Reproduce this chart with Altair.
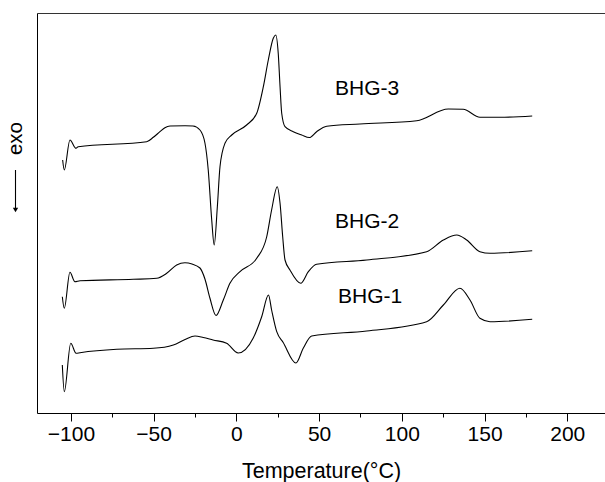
import altair as alt
import pandas as pd

# BHG-3 (top curve)
t3 = [-105.0, -104.0, -100.6, -96.9, -95.6, -54.2, -50.2, -46.2, -43.2, -40.1, -31.0, -26.2, -22.0, -19.0, -17.0, -14.9,
      -13.4, -11.5, -9.9, -6.9, -2.8, 6.2, 12.3, 16.3, 19.3, 22.3, 23.8, 25.3, 26.4, 27.4, 29.4, 34.4,
      39.5, 44.1, 48.5, 54.6, 74.7, 109.0, 128.1, 137.1, 147.2, 159.3, 178.8]
v3 = [253, 243, 273, 264.7, 266.3, 271.3, 275.7, 281.3, 285.3, 287, 287.3, 287, 283, 270, 243, 193,
      168, 206.3, 246.3, 269.7, 278, 288, 299.7, 326.3, 353, 374.7, 378, 359.7, 326.3, 299.7, 286.3, 281.3,
      278, 275.5, 281.3, 286.7, 289, 292.3, 304, 303.7, 295.7, 295.7, 297]

# BHG-2 (middle curve)
t2 = [-105.2, -104.0, -100.6, -97.6, -94.5, -62.3, -48.2, -42.1, -36.1, -31.1, -26.8, -22.0, -19.0, -16.0,
      -12.3, -7.9, -3.9, 2.2, 12.3, 18.3, 21.3, 24.7, 26.4, 28.0, 29.4, 32.4, 38.9, 43.5, 48.5,
      78.8, 115.0, 125.1, 133.2, 139.2, 147.2, 153.3, 178.8]
v2 = [116.3, 104.7, 140.7, 131.3, 132.3, 133.7, 134.7, 139.7, 148, 150.3, 149, 145, 134, 115,
      97.5, 113, 129.7, 141.3, 154.7, 176, 203, 226.3, 209.7, 176.3, 153, 143, 129.7, 141.3, 148.7,
      153, 161.3, 173, 178, 173, 161.3, 159.7, 162.3]

# BHG-1 (bottom curve)
t1 = [-105.2, -104.0, -100.1, -96.9, -94.5, -72.3, -50.2, -38.1, -31.0, -25.0, -20.0, -14.1, -5.9, 1.1, 10.2,
      15.3, 19.4, 21.3, 24.4, 28.3, 36.0, 40.4, 45.5, 78.8, 115.0, 125.1, 135.1, 141.2, 147.2, 153.3, 178.8]
v1 = [48, 21.3, 69.7, 59.7, 60.3, 63.7, 64.7, 68, 73.5, 77, 75.5, 73, 69.7, 60, 75,
      96.3, 118, 103, 81.3, 70.5, 50, 64.7, 77, 82, 91.3, 108, 124.7, 113, 94.7, 91.3, 93.7]

labels = ["BHG-3", "BHG-2", "BHG-1"]
label_t = [59.6, 59.6, 61.4]
label_v = [324, 191, 116]

tick_values = [-100, -75, -50, -25, 0, 25, 50, 75, 100, 125, 150, 175, 200]

rows = []
for name, ts, vs in [("BHG-3", t3, v3), ("BHG-2", t2, v2), ("BHG-1", t1, v1)]:
    for i, (t, v) in enumerate(zip(ts, vs)):
        rows.append({"series": name, "T": t, "v": v, "order": i})
df = pd.DataFrame(rows)
lab_df = pd.DataFrame({"label": labels, "T": label_t, "v": label_v})
deco = pd.DataFrame({"k": [0]})

FONT = "Liberation Sans"
xscale = alt.Scale(domain=[-120.5, 222.8], nice=False, zero=False)
yscale = alt.Scale(domain=[0, 400], nice=False, zero=False)

lines = alt.Chart(df).mark_line(color="black", strokeWidth=1.1, interpolate="monotone").encode(
    x=alt.X("T:Q", scale=xscale,
            axis=alt.Axis(values=tick_values, grid=False, domainColor="black", tickColor="black",
                          tickSize={"condition": {"test": "datum.value % 50 === 0", "value": 8}, "value": 4},
                          labelExpr="datum.value % 50 === 0 ? datum.label : ''",
                          labelFont=FONT, labelFontSize=21, labelColor="black", labelPadding=2,
                          title="Temperature(°C)", titleFont=FONT, titleFontSize=21.5,
                          titleFontWeight="normal", titleColor="black", titleY=64,
                          titleBaseline="alphabetic")),
    y=alt.Y("v:Q", scale=yscale,
            axis=alt.Axis(grid=False, ticks=False, labels=False, domainColor="black",
                          title="exo", titleFont=FONT, titleFontSize=20.5, titleFontWeight="normal",
                          titleColor="black", titleAngle=270, titleX=-21.5, titleY=125,
                          titleAlign="center", titleBaseline="middle")),
    detail="series:N",
    order="order:Q",
)

top = alt.Chart(df).mark_line(opacity=0).encode(
    x=alt.X("T:Q", scale=xscale,
            axis=alt.Axis(orient="top", labels=False, ticks=False, title=None, grid=False,
                          domainColor="#333333")),
    y=alt.Y("v:Q", scale=yscale, axis=None),
    detail="series:N",
)

text = alt.Chart(lab_df).mark_text(font=FONT, fontSize=21, align="left", baseline="middle",
                                   color="black").encode(
    x=alt.X("T:Q", scale=xscale, axis=None),
    y=alt.Y("v:Q", scale=yscale, axis=None),
    text="label:N",
)

# "exo" arrow (decoration next to the y-axis title)
arrow_shaft = alt.Chart(deco).mark_rule(color="black", strokeWidth=1.1).encode(
    x=alt.value(-21.5), y=alt.value(157), y2=alt.value(196),
)
arrow_head = alt.Chart(deco).mark_point(shape="triangle-down", filled=True, color="black",
                                        size=28, opacity=1).encode(
    x=alt.value(-21.5), y=alt.value(197),
)

chart = alt.layer(lines, top, text, arrow_shaft, arrow_head).resolve_axis(
    x="independent", y="independent").properties(
    width=568, height=400,
    autosize=alt.AutoSizeParams(type="none"),
    padding={"left": 37, "top": 13, "right": 0, "bottom": 69},
).configure_view(stroke=None)

chart.save("out.html", embed_options={"renderer": "svg", "actions": False})
